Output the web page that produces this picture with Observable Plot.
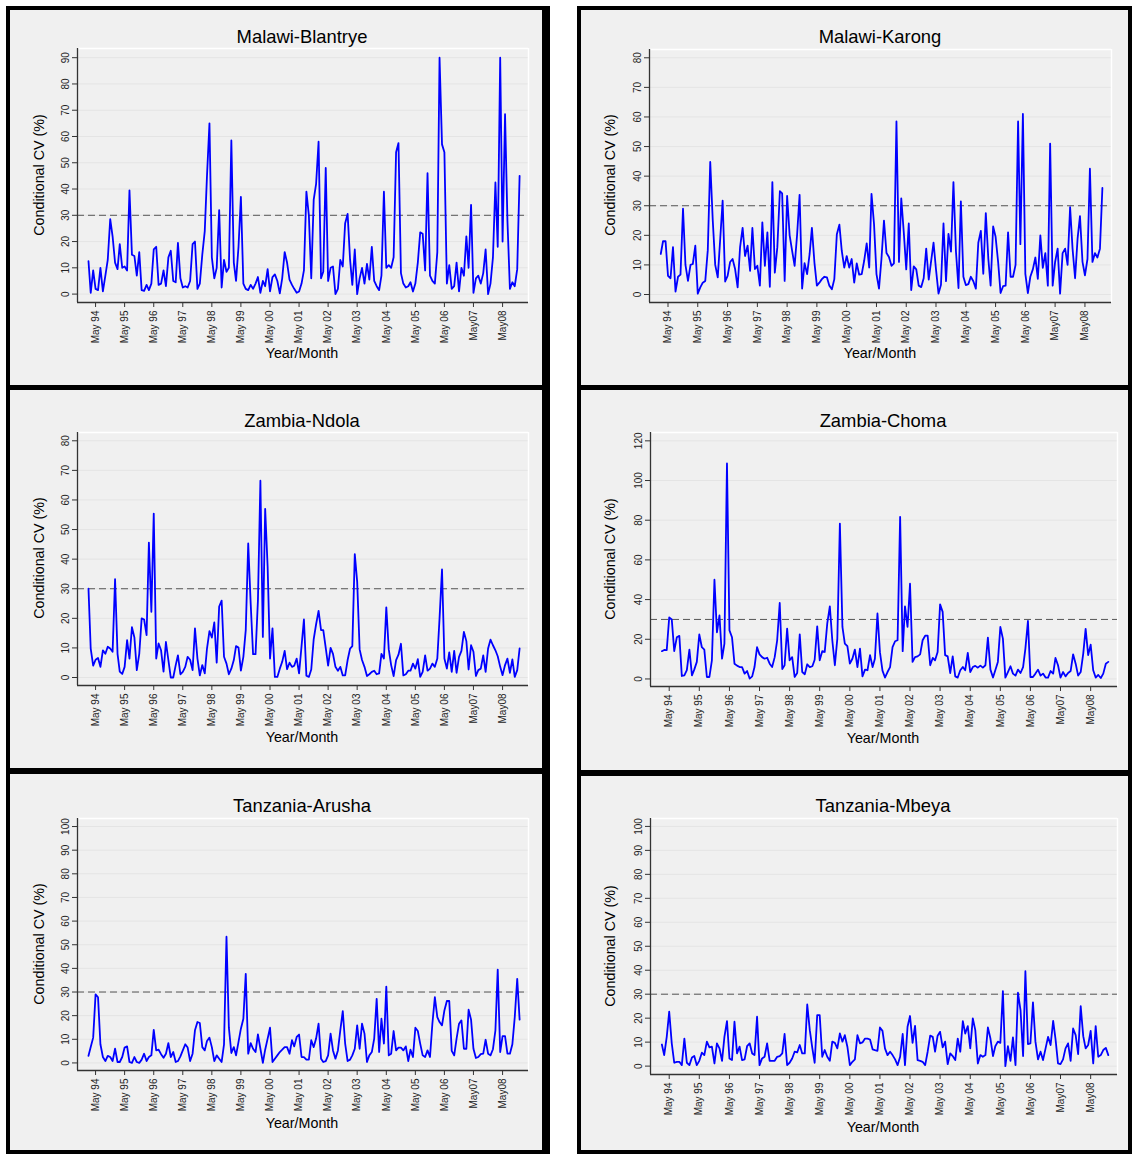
<!DOCTYPE html>
<html><head><meta charset="utf-8">
<script src="https://cdn.jsdelivr.net/npm/d3@7"></script>
<script src="https://cdn.jsdelivr.net/npm/@observablehq/plot@0.6"></script>
<style>
body{margin:0;background:#fff;font-family:"Liberation Sans",Arial,sans-serif;}
#root{position:relative;width:1132px;height:1154px;overflow:hidden;background:#fff;}
.panel{position:absolute;box-sizing:border-box;border:4px solid #000;background:#f0f0f0;}
.title{position:absolute;font-size:18.4px;line-height:20px;color:#000;transform:translateX(-50%);white-space:nowrap;}
.xt{position:absolute;font-size:14.3px;line-height:16px;color:#000;transform:translateX(-50%);white-space:nowrap;}
.yt{position:absolute;font-size:14.3px;line-height:16px;color:#000;transform:translate(-50%,-50%) rotate(-90deg);white-space:nowrap;}
.plot{position:absolute;}
</style></head><body><div id="root"></div>
<script>
// ---- data (monthly, Feb 1994 .. Dec 2008) ----
const startYear = 1994, startMonth = 1; // Feb 1994 (0-based month)
const tickLabels = ["May 94","May 95","May 96","May 97","May 98","May 99","May 00","May 01","May 02","May 03","May 04","May 05","May 06","May07","May08"];
const titles = ["Malawi-Blantrye","Malawi-Karong","Zambia-Ndola","Zambia-Choma","Tanzania-Arusha","Tanzania-Mbeya"];
const yLabel = "Conditional CV (%)";
const xLabel = "Year/Month";
const threshold = 30;

const blantyre = [12.5,0.5,9,2,1.5,10,1,7,13,28.5, 22,12,9.5,19,10,10.5,9,39.5,15,14.5, 7,16,1.5,1.2,3.5,1.5,4,17,18,3.5,
 4,9,3,14,16.5,5,4.5,19.5,6,2.5, 3,2.5,5,19,20,2,4,15,24,45, 65,14,6,10,32,2.5,13,8.5,10,58.5,
 12,5,18,37,4,2,1.5,3.5,2,4, 6.5,0.5,5,3,9.5,1,6.5,7.5,5,0.3, 6,16,12,5.5,3.5,2,0.5,1,4,9,
 39,30,6,36,42,58,6,8.5,48,5, 10,10.5,0,2,13,10.5,27,30.5,13,3.5, 17,0,6,10,4,11.5,5.5,18,5,3,
 1.5,7,39,10,11,10,14,54,57.5,8, 4,2.5,3,4.5,1,4,12,23.5,23,9, 46,7,5,4,16,90,57,54,4,11,
 2,3,12,1,10,7,22,10,34,0.5, 6,7,4,8,17,0,4,14,42.5,18, 90,20,68.5,28,2,4.5,3,9.5,45];

const karonga = [13.7,18,18,6.3,5.5,16,1,6,6.7,29, 10,4.6,10,10.3,16.5,0.3,2.4,4,4.6,15, 44.8,25,10,5.8,19,31.7,4.4,6.3,11,12,
 8.6,2.4,16,22.5,13,16.5,8,22.5,8.6,9.7, 3,24.4,9.7,21,2.6,38,7.4,16,34.9,34.2, 4.6,33.3,20,14.8,9.7,20.4,33.7,2,10.6,6.9,
 13.7,22.5,10.8,3,4,5.2,6,5.8,3,1.8, 5.2,20.4,23.6,14.8,9.1,13,9.1,12,4,10.5, 6.7,6.9,11.4,17.3,9.1,34,23.8,6.9,2,12,
 25,14,12.7,9.7,10.5,58.5,11,32.5,21,8.5, 24,1.5,9.5,8.5,3,2.5,5.5,15.5,5,11, 17.5,8.5,0.3,3.3,24,4.5,20.5,14.5,38,14.5,
 2.2,31.5,6,3.2,3.5,6,4.5,2,17.5,21.5, 7,27.5,12,3,23,19.5,11,0.5,2.8,3, 21,6,6,10,58.5,17,61,7,0.5,6,
 8.5,12.5,5.3,20,9,14,3,51,3,11, 15.5,0.3,14,15.5,10,29.5,15.5,5.5,19,26.5, 11,6.5,12,42.5,11,14,12.5,15.5,36];

const ndola = [30,9.8,4,6,6.6,3.6,9.2,8,10.4,9.8, 8.7,33.2,8,2,1.2,3.6,12.6,6.4,17,13.5, 2.5,8,20,19.6,14.3,45.6,22.2,55.4,6.4,11.5,
 9.2,2,12,5.9,0,0,4.2,7.5,1.1,1.9, 3.6,7,6,2.5,16.6,6.4,0.7,4.2,1.4,9.8, 15.7,13.5,18.6,5,24,26,7,4.7,1.1,3,
 5.9,10.6,10.1,2.3,7,16,45.3,25,7.9,7.9, 26,66.5,13.7,57,37.4,6.4,16.6,0.2,0.2,3, 5.3,9,2.8,5,3.6,4,6.4,1.4,10.6,19.6,
 0.6,0.2,2.7,13,18,22.5,16,16,10,4, 10,8,3.6,2.3,3.6,0.7,0.7,5.9,9.8,10.6, 41.7,32.4,9.5,5.9,3.6,0.5,1.1,1.9,2.3,1.1,
 1.4,8,6.4,23.7,9.5,4.2,0.5,5.9,7.7,11.4, 0.7,1.1,2.3,2.3,4.7,3,6.2,0.2,1.9,7.5, 2.3,3,4.7,3.6,6.4,20,36.5,6.4,3,8.5,
 1.9,9,1.6,7,9,15.4,12.3,2.7,10.9,8.7, 0.5,2.5,3,7.5,1.9,9.8,12.8,10.9,9.2,7.2, 3.6,0.8,4.2,6.4,1.6,6.1,0.2,2.5,9.8];

const choma = [14,14.6,14.5,31,30,14,21,21.7,1.5,1.8, 4.4,14.8,1.8,4.7,8.6,22.4,16,14.8,1,1, 9.4,50,23.5,32,10.2,17.8,108.6,24.5,21,7.7,
 6.7,6,6,2.7,4,0.2,1.3,6,16,12.4, 11,10.2,10.7,7.7,6,11,19.5,38.3,5,6.9, 25.4,9.4,11,1,3,22.5,3.5,2.4,7.4,6,
 6.4,9.7,26.5,9.4,14,13.6,28,36.6,19.5,6.9, 20.3,78.3,26.2,17.8,16.5,7.7,10.2,14.8,6,15.3, 1.3,4.7,4.4,12,6,10.2,33,13.5,4.2,0.7,
 3.5,6,16,19,19.5,81.7,14,36.6,26.2,48, 8.6,11,11.4,12.4,19.5,21.8,21.8,6.9,10.6,9.4, 13.6,37.6,33.8,12,11.4,3,11.4,1.3,0.7,4.4,
 6,4.4,13.1,3.5,6,6.6,5.7,6.7,5.7,6.9, 20.8,4.7,0.7,4.4,8.6,26.2,20.3,0.7,3.5,6.4, 2.7,1.7,4.7,3,6,15.3,29.2,1,1,2.7,
 4.7,1.7,2.7,0.7,0.7,4,2.7,10.6,6.9,0.7, 3.5,1.3,3,4,12.4,7.7,1.7,3.5,12.8,25.2, 12,17.3,4.4,0.7,2,0.5,2.7,7.7,8.6];

const arusha = [3,6.7,10.7,29,27.8,7.9,2.5,0.8,3,2.5, 0.8,6,0.4,0.4,2.5,6.5,7,0.4,0,2.5, 0.4,0,1.4,3.9,0.8,2.5,3.2,14,5.3,5.6,
 3.7,2.2,3.9,8.4,2.5,4.6,0.4,0.8,2.8,5.3, 7.9,6.5,0.8,3.9,13.8,17.3,16.9,6.7,5.3,9.3, 10.7,6.7,0.8,3.2,1.8,0.4,7.9,53.4,14.9,4.2,
 6.7,3.2,8.9,14.5,18.7,37.7,3.9,8.4,6,4.6, 12.1,6,0,5.6,10.3,14.9,0.4,1.8,3.2,4.6, 5.6,6.7,6.7,3.9,9.6,7,11,12,2.5,2.5,
 1.4,1.4,9.6,6.7,10.3,16.6,1.8,0.4,0.8,3.2, 12.4,5.3,1.8,5.3,13.8,21.9,8.2,0.8,1.4,3.2, 6,15.9,6,16.6,12.4,0.4,3.2,4.6,10.3,27.1,
 4.6,18.7,8.2,32.3,3.2,3.9,13.5,5.3,6.5,6.5, 5.3,7,0.8,5.6,2.5,14.9,13.5,8.2,3.2,2.5, 5.3,2.5,16.6,27.8,19.4,17.3,15.9,22.2,26.2,26.2,
 5.1,3.2,10.3,16.6,18,6,6,22.5,18.3,6, 2.1,2.5,3.7,3.9,9.8,3.9,3.2,5.8,13.8,39.5, 4.6,11.3,11.3,3.9,3.9,7.9,19.4,35.6,18.3];

const mbeya = [9,4.6,12.2,22.7,9.5,1.4,1.8,1.8,0.4,11.5, 1.4,0.4,3.6,4.2,0.4,2.2,5.6,4.6,10.2,7.8, 8.1,1.1,9.5,7.4,2.2,12.2,18.8,3.2,2.5,18.5,
 5.3,8.1,2.5,2.8,8.3,9.5,5.3,4.6,20.6,0.4, 3.2,3.9,9.5,2.2,2.2,2.2,3.9,4.2,5.3,13.4, 0.4,1.4,3.2,6,5.7,8.8,5.3,5.3,25.7,15,
 7.4,1.4,21.3,21.3,3.9,6.7,3.9,2.2,10.2,9.7, 7.4,13.6,10.2,12.9,8.1,0.4,1.8,2.8,12.9,9.5, 9.9,11.5,11.5,11.1,7,6.7,6.4,16.1,14.7,7.4,
 4.6,6,4.6,2.8,0.4,3.9,13.4,0.4,16.4,20.9, 9.7,16.8,2.5,2.2,1.8,0.4,6,12.7,12.2,6, 12.7,14.3,7.8,10.2,0.8,5.3,4.2,2.5,11.5,6,
 18.8,13.6,16.7,7.4,19.9,15,1.1,4.6,3.9,4.6, 16.1,11.5,4.2,8.3,10.2,9.7,31.3,0,8.3,2.2, 12,0.4,30.6,23.4,4.2,39.6,9.2,9.5,26.6,10.2,
 2.8,6,2.5,7.4,12.2,8.8,18.9,11.5,1.1,0.8, 2.8,7.4,9.5,2.2,15.7,12.9,5,25,12.5,7.4, 8.8,14.7,1.1,16.7,3.9,4.6,6.7,7.6,4.6];

const seriesList = [blantyre, karonga, ndola, choma, arusha, mbeya];
const yTickSets = [d3.range(0,91,10), d3.range(0,81,10), d3.range(0,81,10), d3.range(0,121,20), d3.range(0,101,10), d3.range(0,101,10)];
const yDomains = [[-3.2,93.5],[-2.7,82.8],[-2.7,82.8],[-3.8,124.2],[-3.2,103.4],[-3.5,103.3]];

// ---- layout (page pixels) ----
const layout = [
  {box:[6,6,544,383],   bw:"4px 8px 4px 4px", plot:[77,528,48,302],   title:[302,37],   yl:[39,175],  xl:[302,353]},
  {box:[577,6,555,383], bw:"4px",             plot:[649,1111,49,302], title:[880,37],   yl:[610,175], xl:[880,353]},
  {box:[6,386,544,386], bw:"4px 8px 4px 4px", plot:[77,528,432,685],  title:[302,421],  yl:[39,558],  xl:[302,737]},
  {box:[577,386,555,388],bw:"4px",            plot:[650,1117,432,686],title:[883,421], yl:[610,559], xl:[883,738]},
  {box:[6,770,544,384], bw:"4px 8px 4px 4px", plot:[77,528,818,1070], title:[302,806],  yl:[39,944],  xl:[302,1123]},
  {box:[577,772,555,382],bw:"4px",            plot:[650,1117,818,1074],title:[883,806],yl:[610,946], xl:[883,1127]}
];

const monthDate = (k) => new Date(Date.UTC(startYear, startMonth + k, 1));
const monthDateF = (k) => { const a = Math.floor(k); const d0 = monthDate(a), d1 = monthDate(a+1); return new Date(+d0 + (k-a)*(d1-d0)); };
const xDomain = [monthDateF(-4.5), monthDateF(181.7)];
const tickDates = tickLabels.map((_, j) => new Date(Date.UTC(startYear + j, 4, 1)));

const root = document.getElementById("root");
function div(cls, text, css) {
  const e = document.createElement("div");
  e.className = cls; if (text) e.textContent = text;
  Object.assign(e.style, css); root.appendChild(e); return e;
}

layout.forEach((L, p) => {
  const [bx, by, bw, bh] = L.box;
  div("panel", null, {left: bx+"px", top: by+"px", width: bw+"px", height: bh+"px", borderWidth: L.bw});
});

layout.forEach((L, p) => {
  const [pl, pr, pt, pb] = L.plot;
  const data = seriesList[p].map((v, k) => ({date: monthDate(k), cv: v}));
  const yDom = yDomains[p], yT = yTickSets[p];
  const mL = 32, mR = 8, mT = 6, mB = 52;
  const chart = Plot.plot({
    width: (pr - pl) + mL + mR,
    height: (pb - pt) + mT + mB,
    marginLeft: mL, marginRight: mR, marginTop: mT, marginBottom: mB,
    style: {background: "transparent", fontFamily: "'Liberation Sans', Arial, sans-serif", fontSize: "10px", color: "#222", overflow: "visible"},
    x: {type: "utc", domain: xDomain},
    y: {domain: yDom},
    marks: [
      Plot.gridY(yT, {stroke: "#e4e4e4", strokeOpacity: 1, strokeWidth: 1}),
      Plot.ruleY([yDom[1]], {stroke: "#ffffff", strokeWidth: 1.5}),
      Plot.ruleX([xDomain[1]], {stroke: "#ffffff", strokeWidth: 1.5}),
      Plot.ruleY([threshold], {stroke: "#555", strokeWidth: 1, strokeDasharray: "7,4"}),
      Plot.line(data, {x: "date", y: "cv", stroke: "#0000ff", strokeWidth: 1.8}),
      Plot.axisY(yT, {tickRotate: -90, tickSize: 5, tickPadding: 4, label: null, stroke: "#333", fill: "#222"}),
      Plot.axisX(tickDates, {tickRotate: -90, tickSize: 5, tickPadding: 3, label: null, stroke: "#333", fill: "#222",
        tickFormat: d => tickLabels[d.getUTCFullYear() - startYear]}),
      Plot.ruleX([xDomain[0]], {stroke: "#333", strokeWidth: 1.3}),
      Plot.ruleY([yDom[0]], {stroke: "#333", strokeWidth: 1.3})
    ]
  });
  chart.classList.add("plot");
  chart.style.left = (pl - mL) + "px";
  chart.style.top = (pt - mT) + "px";
  root.appendChild(chart);

  div("title", titles[p], {left: L.title[0]+"px", top: (L.title[1]-10)+"px"});
  div("xt", xLabel, {left: L.xl[0]+"px", top: (L.xl[1]-8)+"px"});
  div("yt", yLabel, {left: L.yl[0]+"px", top: L.yl[1]+"px"});
});
</script></body></html>
